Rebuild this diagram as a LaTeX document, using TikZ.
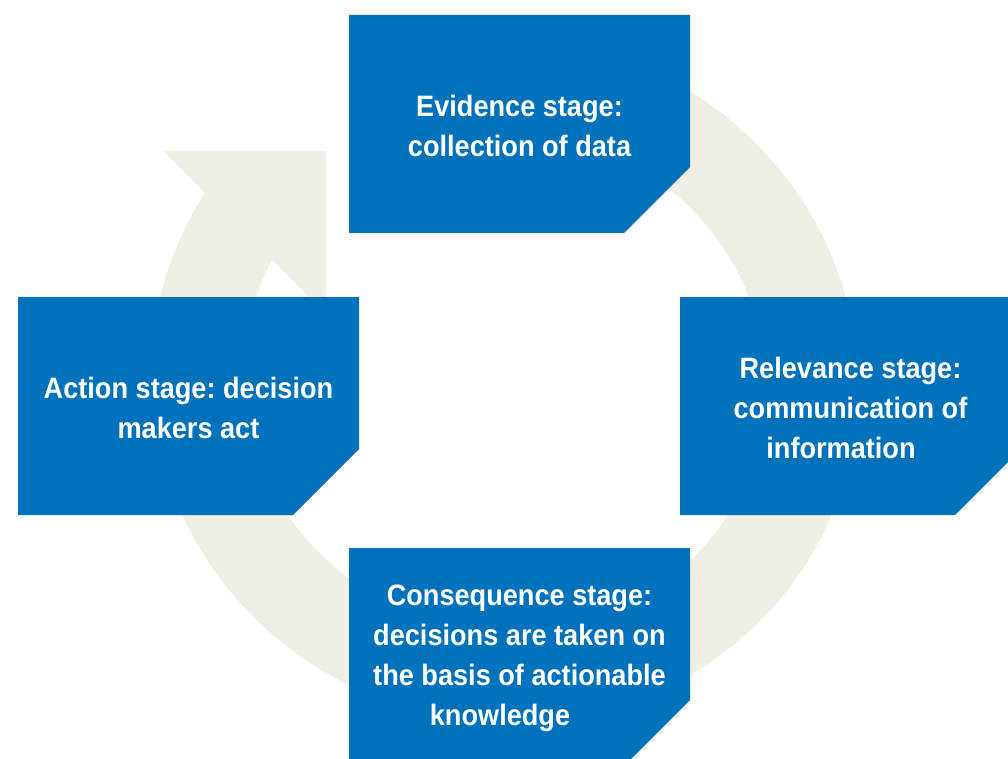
\documentclass[tikz,border=0pt]{standalone}
\usepackage{fontspec}
\setmainfont{Liberation Sans}[FakeStretch=0.92]
\frenchspacing
\definecolor{stageblue}{RGB}{0,114,188}
\definecolor{cyclegrey}{RGB}{239,239,230}
% blue stage panel with its lower right corner cut off
\newcommand\stagepanel[2]{%
  \fill[stageblue] (#1,#2) -- ++(341,0) -- ++(0,152) -- ++(-66,66) -- ++(-275,0) -- cycle;}
\begin{document}
\begin{tikzpicture}[x=1pt,y=-1pt,
  stagetext/.style={text=white,font=\fontsize{29.5}{40}\selectfont\bfseries,
    align=center,inner sep=0pt}]
\useasboundingbox (0,0) rectangle (1008,759);

% circular band of the cycle, cut back where the arrow head sits
\coordinate (hub) at (504.5,380);
\begin{scope}
  \clip (-100,-112) -- (352,340) -- (352,-50) -- (1100,-50) -- (1100,900)
        -- (-100,900) -- cycle;
  \fill[cyclegrey,even odd rule,rotate around={-15:(hub)}]
    (hub) ellipse [x radius=354,y radius=342]
    (hub) ellipse [x radius=262,y radius=250];
\end{scope}
% arrow head
\fill[cyclegrey] (163,151) -- (326,151) -- (326,314) -- cycle;

% stage panels
\stagepanel{349}{15}
\stagepanel{18}{297}
\stagepanel{680}{297}
\stagepanel{349}{548}

\node[stagetext] (evidence) at (519.5,126) {Evidence stage:\\collection of data};
\node[stagetext] (action) at (188.5,408) {Action stage: decision\\makers act};
\node[stagetext] (relevance) at (850.5,408)
  {Relevance stage:\\communication of\\information\hspace*{19pt}};
\node[stagetext] (consequence) at (519.5,658)
  {Consequence stage:\\decisions are taken on\\the basis of actionable\\knowledge\hspace*{39pt}};
\end{tikzpicture}
\end{document}
